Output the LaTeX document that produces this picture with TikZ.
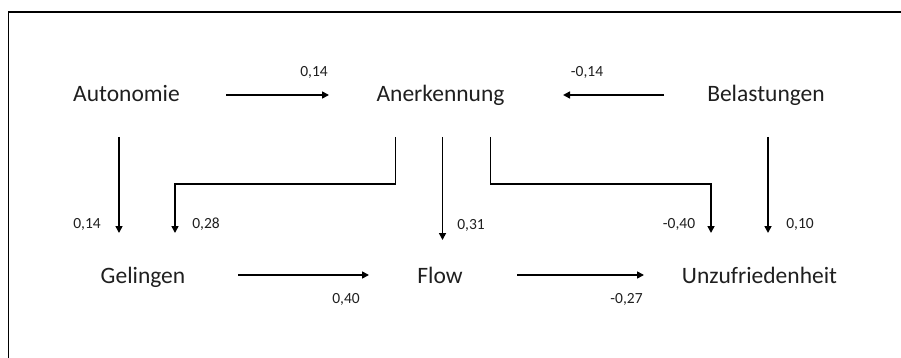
\documentclass[tikz,border=0pt]{standalone}
\usepackage{fontspec}
\setmainfont{Carlito}
\usetikzlibrary{arrows.meta}
\tikzset{
  var/.style={anchor=base, inner sep=0pt, font=\fontsize{23.5}{28}\selectfont, text=black!88},
  coef/.style={anchor=base, inner sep=0pt, font=\fontsize{15.5}{18}\selectfont, text=black!88},
  path/.style={line width=1.6pt, -{Triangle[length=7pt,width=7pt]}},
}
\begin{document}
\begin{tikzpicture}[x=1pt,y=-1pt]
\useasboundingbox (0,0) rectangle (901,358);
\draw[line width=1.5pt] (8.5,358) -- (8.5,12) -- (901,12);
% variables
\node[var] (auto) at (126.5,102) {Autonomie};
\node[var] (aner) at (440.5,102) {Anerkennung};
\node[var] (bela) at (766,102) {Belastungen};
\node[var] (gel) at (143,283) {Gelingen};
\node[var] (flow) at (440,283) {Flow};
\node[var] (unz) at (759.5,283) {Unzufriedenheit};
% connector endpoints
\coordinate (a1) at (226,95); \coordinate (a2) at (329,95);
\coordinate (b1) at (664,95); \coordinate (b2) at (563,95);
\coordinate (c1) at (119,137); \coordinate (c2) at (119,233);
\coordinate (d1) at (395.5,137); \coordinate (d2) at (175,233);
\coordinate (e1) at (442.5,137); \coordinate (e2) at (442.5,240);
\coordinate (f1) at (490.5,137); \coordinate (f2) at (711,233);
\coordinate (g1) at (768,137); \coordinate (g2) at (768,233);
\coordinate (h1) at (238,275); \coordinate (h2) at (369,275);
\coordinate (i1) at (517,275); \coordinate (i2) at (644,275);
% connectors
\draw[path] (a1) -- (a2);
\draw[path] (b1) -- (b2);
\draw[path] (c1) -- (c2);
\draw[path] (d1) |- (175,184) -- (d2);
\draw[path] (e1) -- (e2);
\draw[path] (f1) |- (711,184) -- (f2);
\draw[path] (g1) -- (g2);
\draw[path] (h1) -- (h2);
\draw[path] (i1) -- (i2);
% coefficients
\node[coef] (l1) at (314,77) {0,14};
\node[coef] (l2) at (587,77) {-0,14};
\node[coef] (l3) at (87,228) {0,14};
\node[coef] (l4) at (206,228) {0,28};
\node[coef] (l5) at (471,229) {0,31};
\node[coef] (l6) at (679,228) {-0,40};
\node[coef] (l7) at (800,228) {0,10};
\node[coef] (l8) at (346,303) {0,40};
\node[coef] (l9) at (626.5,303) {-0,27};
\end{tikzpicture}
\end{document}
